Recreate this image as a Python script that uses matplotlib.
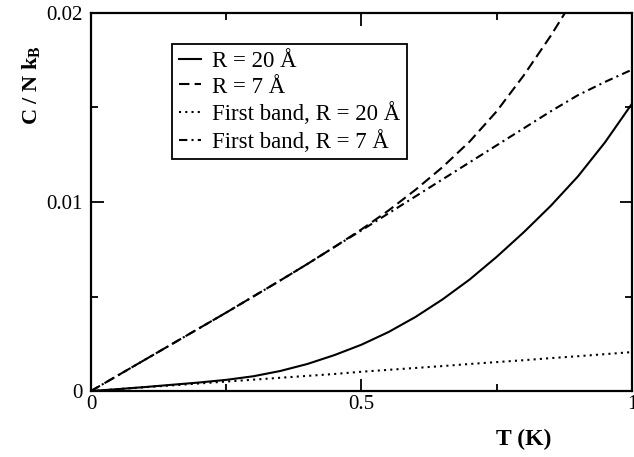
import numpy as np
import matplotlib
matplotlib.use('Agg')
import matplotlib.pyplot as plt

plt.rcParams['font.family'] = ['Liberation Serif', 'DejaVu Serif']
plt.rcParams['mathtext.default'] = 'regular'

# temperature grid (K)
T = [0.0, 0.05, 0.1, 0.15, 0.2, 0.25, 0.3, 0.35, 0.4, 0.45, 0.5,
     0.55, 0.6, 0.65, 0.7, 0.75, 0.8, 0.85, 0.9, 0.95, 1.0]

# C / N kB
c_r20 = [0.0, 0.0001, 0.00021, 0.00033, 0.00045, 0.00059, 0.00078, 0.00106,
         0.00143, 0.0019, 0.00245, 0.00312, 0.00392, 0.00485, 0.0059, 0.0071,
         0.0084, 0.0098, 0.01135, 0.01315, 0.0152]
c_r7 = [0.0, 0.00083, 0.00166, 0.00249, 0.00332, 0.00415, 0.005, 0.00585,
        0.00672, 0.00762, 0.00855, 0.00955, 0.01065, 0.01185, 0.0132, 0.0148,
        0.0167, 0.0188, 0.0211]
c_band_r20 = [0.0, 0.0001, 0.0002, 0.0003, 0.0004, 0.0005, 0.0006, 0.0007,
              0.0008, 0.0009, 0.00102, 0.00112, 0.00122, 0.00132, 0.00143,
              0.00153, 0.00163, 0.00174, 0.00184, 0.00195, 0.00206]
c_band_r7 = [0.0, 0.00083, 0.00166, 0.00249, 0.00332, 0.00415, 0.005, 0.00585,
             0.00672, 0.00762, 0.0085, 0.0094, 0.0103, 0.0112, 0.0121, 0.013,
             0.0139, 0.0148, 0.01565, 0.01635, 0.017]

labels = ['R = 20 Å', 'R = 7 Å', 'First band, R = 20 Å', 'First band, R = 7 Å']

fig = plt.figure(figsize=(6.34, 4.57), dpi=100)
ax = fig.add_axes([0.1435, 0.1444, 0.8533, 0.8272])

lw = 1.5
ax.plot(T, c_r20, color='black', lw=lw, label=labels[0])
ax.plot(T[:len(c_r7)], c_r7, color='black', lw=lw, linestyle=(0, (5, 2.5)), label=labels[1])
ax.plot(T, c_band_r20, color='black', lw=lw, linestyle=(0, (1, 2)), label=labels[2])
ax.plot(T, c_band_r7, color='black', lw=lw, linestyle=(0, (4, 2, 1, 2)), label=labels[3])

ax.set_xlim(0, 1)
ax.set_ylim(0, 0.02)
ax.set_xticks([0, 0.5, 1])
ax.set_xticklabels(['0', '0.5', '1'])
ax.set_yticks([0, 0.01, 0.02])
ax.set_yticklabels(['0', '0.01', '0.02'])
ax.set_xticks([0.25, 0.75], minor=True)
ax.set_yticks([0.005, 0.015], minor=True)
ax.tick_params(which='both', direction='in', top=True, right=True, width=1.3, labelsize=15)
ax.tick_params(which='major', length=9, pad=6)
ax.tick_params(which='minor', length=5)
ax.tick_params(axis='x', pad=3)
for s in ax.spines.values():
    s.set_linewidth(1.6)

ax.set_xlabel('T (K)', fontsize=17, fontweight='bold')
ax.xaxis.set_label_coords(0.80, -0.10)
ax.set_ylabel(r'C / N k$_\mathregular{B}$', fontsize=16, fontweight='bold')
ax.yaxis.set_label_coords(-0.09, 0.81)

leg = ax.legend(loc='upper left', bbox_to_anchor=(0.15, 0.918), borderaxespad=0,
                fancybox=False, frameon=True, edgecolor='black', fontsize=16.5,
                handlelength=0.95, handletextpad=0.5, labelspacing=0.2,
                borderpad=0.3)
leg.get_frame().set_linewidth(1.3)
leg.get_frame().set_alpha(1)

fig.savefig('out.png', dpi=100)
